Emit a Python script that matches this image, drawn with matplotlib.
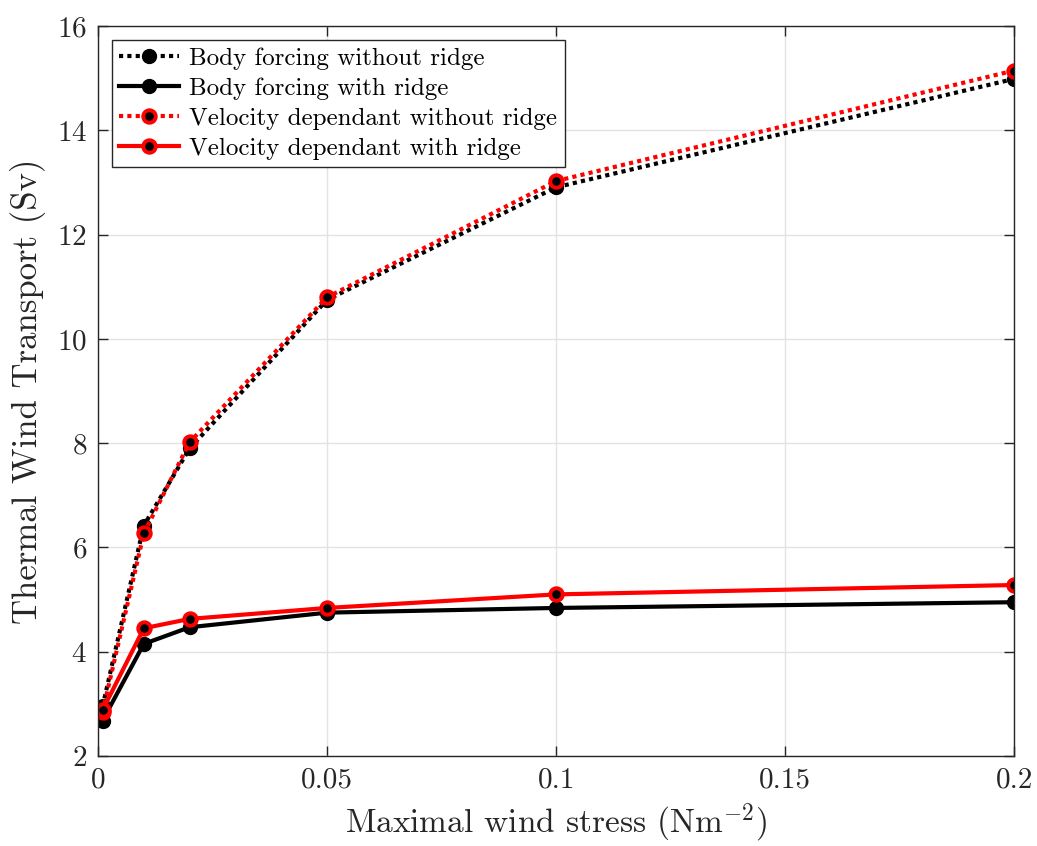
import matplotlib
matplotlib.use('Agg')
import matplotlib.pyplot as plt

plt.rcParams['font.family'] = 'cmr10'
plt.rcParams['mathtext.fontset'] = 'cm'
plt.rcParams['axes.formatter.use_mathtext'] = True

# Maximal wind stress (N m^-2)
stress = [0.001, 0.01, 0.02, 0.05, 0.1, 0.2]

# Thermal wind transport (Sv)
body_no_ridge = [2.95, 6.42, 7.9, 10.75, 12.91, 14.99]
body_ridge = [2.68, 4.15, 4.47, 4.75, 4.84, 4.95]
vel_no_ridge = [2.85, 6.27, 8.02, 10.80, 13.03, 15.15]
vel_ridge = [2.88, 4.45, 4.63, 4.84, 5.10, 5.28]

labels = ['Body forcing without ridge', 'Body forcing with ridge',
          'Velocity dependant without ridge', 'Velocity dependant with ridge']

fig = plt.figure(figsize=(10.37, 8.46), dpi=100)
ax = fig.add_axes([0.0945, 0.1064, 0.8835, 0.8626])

dots = (0, (1, 1))
ax.plot(stress, body_no_ridge, color='k', lw=3, linestyle=dots, dash_capstyle='butt',
        marker='o', ms=10, mfc='k', mec='k', label=labels[0])
ax.plot(stress, body_ridge, color='k', lw=3, linestyle='-',
        marker='o', ms=10, mfc='k', mec='k', label=labels[1])
ax.plot(stress, vel_no_ridge, color='r', lw=3, linestyle=dots, dash_capstyle='butt',
        marker='o', ms=9, mfc='k', mec='r', mew=2.8, label=labels[2])
ax.plot(stress, vel_ridge, color='r', lw=3, linestyle='-',
        marker='o', ms=9, mfc='k', mec='r', mew=2.8, label=labels[3])

ax.set_xlim(0, 0.2)
ax.set_ylim(2, 16)
ax.set_xticks([0, 0.05, 0.1, 0.15, 0.2])
ax.set_xticklabels(['0', '0.05', '0.1', '0.15', '0.2'])
ax.set_yticks(range(2, 17, 2))

ax.grid(True, color='#e3e3e3', lw=1)
ax.set_axisbelow(True)
ax.tick_params(direction='in', length=7, width=1, labelsize=21, colors='#262626',
               top=True, right=True, pad=8)
for s in ax.spines.values():
    s.set_color('#262626')
    s.set_linewidth(1)

ax.set_xlabel('Maximal wind stress (Nm$^{-2}$)', fontsize=24, color='#262626', labelpad=6)
ax.set_ylabel('Thermal Wind Transport (Sv)', fontsize=25, color='#262626', labelpad=8)

leg = ax.legend(loc='upper left', fontsize=18, fancybox=False, framealpha=1,
                edgecolor='#262626', handlelength=2.4, borderpad=0.3,
                labelspacing=0.3, handletextpad=0.4, borderaxespad=0.55)
leg.get_frame().set_linewidth(1)

fig.savefig('out.png', dpi=100)
